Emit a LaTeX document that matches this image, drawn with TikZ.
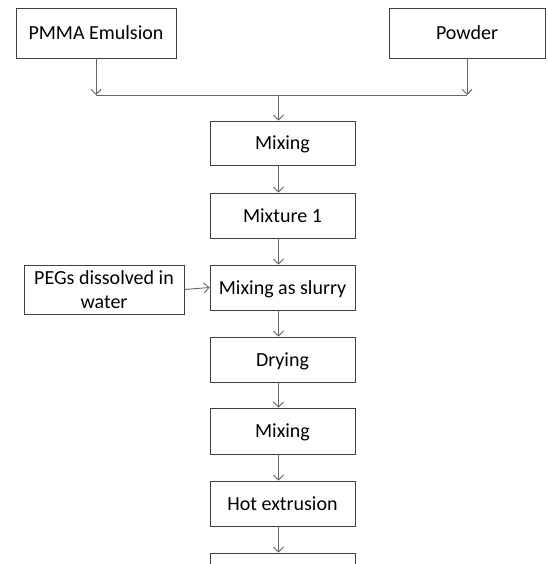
\documentclass[tikz,border=0pt]{standalone}
\usepackage{fontspec}
\setmainfont{Carlito}
\usetikzlibrary{arrows.meta,positioning}

\tikzset{
    stepbox/.style = {rectangle, draw=black!75, line width=0.9pt, minimum width=145, minimum height=45,
        font=\fontsize{20}{24}\selectfont, align=center, inner sep=0pt, text depth=0pt},
    flow/.style = {draw=black!60, line width=0.9pt, -{Straight Barb[length=5pt, width=10pt]}},
    plain/.style = {draw=black!60, line width=0.9pt}
}

\begin{document}
\begin{tikzpicture}[x=1pt, y=-1pt]
    \useasboundingbox (0,0) rectangle (547,564);
    \clip (0,0) rectangle (547,564);
    \def\cx{282.5}
    \def\dx{-4}

    \node(emul) [stepbox, minimum width=160, minimum height=50] at (96,33) {PMMA Emulsion};
    \node(powder) [stepbox, minimum width=156, minimum height=50] at (467,33) {Powder};
    \node(mixA) [stepbox, minimum height=44] at (\cx,143) {Mixing};
    \node(mixt) [stepbox] at (\cx,215.5) {Mixture 1};
    \node(slurry) [stepbox] at (\cx,287.5) {Mixing as slurry};
    \node(pegs) [stepbox, minimum width=160, minimum height=49, text depth=] at (104,289.5) {PEGs dissolved in\\water};
    \node(dry) [stepbox] at (\cx,359.5) {Drying};
    \node(mixB) [stepbox, minimum height=46] at (\cx,431) {Mixing};
    \node(hot) [stepbox] at (\cx,503.5) {Hot extrusion};
    \node(last) [stepbox] at (\cx,575.5) {};

    \coordinate(jl) at (96,95);
    \coordinate(jr) at (467,95);
    \coordinate(jm) at (\cx+\dx,95);

    % feeds into the joint line
    \draw[flow] (emul.south) -- (jl);
    \draw[flow] (powder.south) -- (jr);
    \draw[plain] (jl) -- (jr);
    \draw[flow] (jm) -- ([xshift=\dx]mixA.north);

    % main chain
    \draw[flow] ([xshift=\dx]mixA.south) -- ([xshift=\dx]mixt.north);
    \draw[flow] ([xshift=\dx]mixt.south) -- ([xshift=\dx]slurry.north);
    \draw[flow] (pegs.east) -- (slurry.west);
    \draw[flow] ([xshift=\dx]slurry.south) -- ([xshift=\dx]dry.north);
    \draw[flow] ([xshift=\dx]dry.south) -- ([xshift=\dx]mixB.north);
    \draw[flow] ([xshift=\dx]mixB.south) -- ([xshift=\dx]hot.north);
    \draw[flow] ([xshift=\dx]hot.south) -- ([xshift=\dx]last.north);

\end{tikzpicture}
\end{document}
